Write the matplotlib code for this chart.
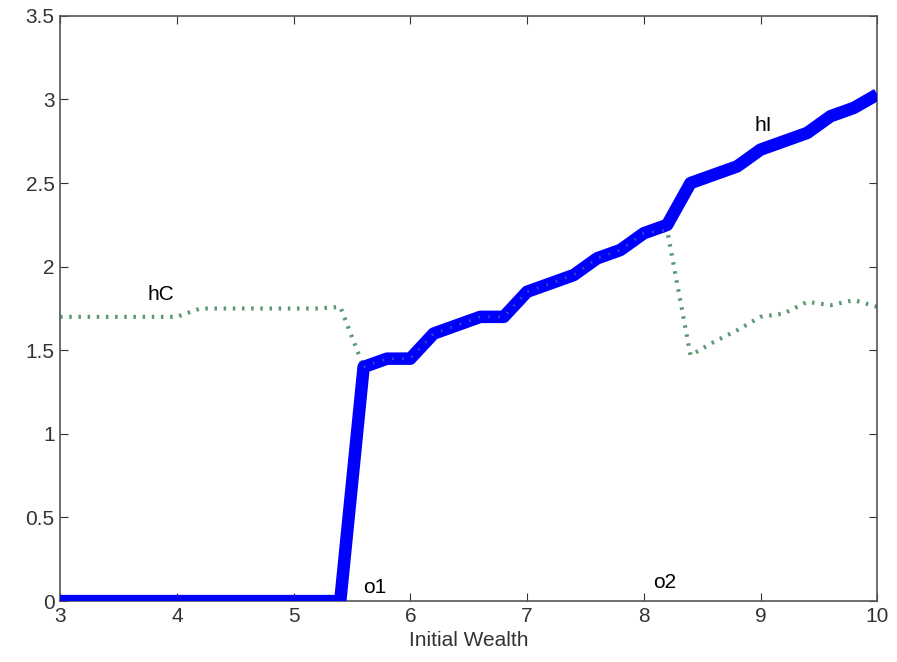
import numpy as np
import matplotlib
matplotlib.use("Agg")
import matplotlib.pyplot as plt

plt.rcParams['font.family'] = ['Liberation Sans', 'DejaVu Sans']

# initial wealth grid (step 0.2)
wealth = [3.0, 3.2, 3.4, 3.6, 3.8, 4.0, 4.2, 4.4, 4.6, 4.8, 5.0, 5.2, 5.4,
          5.6, 5.8, 6.0, 6.2, 6.4, 6.6, 6.8, 7.0, 7.2, 7.4, 7.6, 7.8, 8.0,
          8.2, 8.4, 8.6, 8.8, 9.0, 9.2, 9.4, 9.6, 9.8, 10.0]

# hI : investment in the risky project
h_i = [0, 0, 0, 0, 0, 0, 0, 0, 0, 0, 0, 0, 0,
       1.40, 1.45, 1.45, 1.60, 1.65, 1.70, 1.70, 1.85, 1.90, 1.95, 2.05,
       2.10, 2.20, 2.25, 2.50, 2.55, 2.60, 2.70, 2.75, 2.80, 2.90, 2.95, 3.03]

# hC : consumption
h_c = [1.70, 1.70, 1.70, 1.70, 1.70, 1.70, 1.75, 1.75, 1.75, 1.75, 1.75, 1.75, 1.76,
       1.40, 1.45, 1.45, 1.60, 1.65, 1.70, 1.70, 1.85, 1.90, 1.95, 2.05,
       2.10, 2.20, 2.22, 1.47, 1.55, 1.62, 1.70, 1.72, 1.79, 1.77, 1.80, 1.76]

fig = plt.figure(figsize=(8.97, 6.62), dpi=100)
ax = fig.add_axes([0.067, 0.092, 0.911, 0.884])

ax.plot(wealth, h_c, color=(0.2, 0.5, 0.3), linestyle=(0, (0.6, 1.6)),
        linewidth=3.0, alpha=0.8, zorder=2)
ax.plot(wealth, h_i, color='#0000ff', linewidth=9, solid_capstyle='butt',
        solid_joinstyle='round', zorder=3)
# dots of hC seen through the blue line
ax.plot(wealth[13:27], h_c[13:27], color=(0.4, 0.6, 0.5), linestyle=(0, (0.6, 3.0)),
        linewidth=2.0, alpha=0.5, zorder=4)

ax.text(3.75, 1.80, 'hC', fontsize=15)
ax.text(8.95, 2.81, 'hI', fontsize=15)
ax.text(5.6, 0.05, 'o1', fontsize=15)
ax.text(8.08, 0.08, 'o2', fontsize=15)

ax.set_xlim(3, 10)
ax.set_ylim(0, 3.5)
ax.set_xticks(range(3, 11))
ax.set_yticks([0, 0.5, 1, 1.5, 2, 2.5, 3, 3.5])
ax.set_yticklabels(['0', '0.5', '1', '1.5', '2', '2.5', '3', '3.5'])
ax.tick_params(direction='in', length=6, top=True, right=True,
               labelsize=15, colors='#333333', pad=4)
for s in ax.spines.values():
    s.set_color('#555555')
    s.set_linewidth(1.2)
ax.set_xlabel('Initial Wealth', fontsize=15, color='#333333', labelpad=4)

fig.savefig('out.png', dpi=100)
